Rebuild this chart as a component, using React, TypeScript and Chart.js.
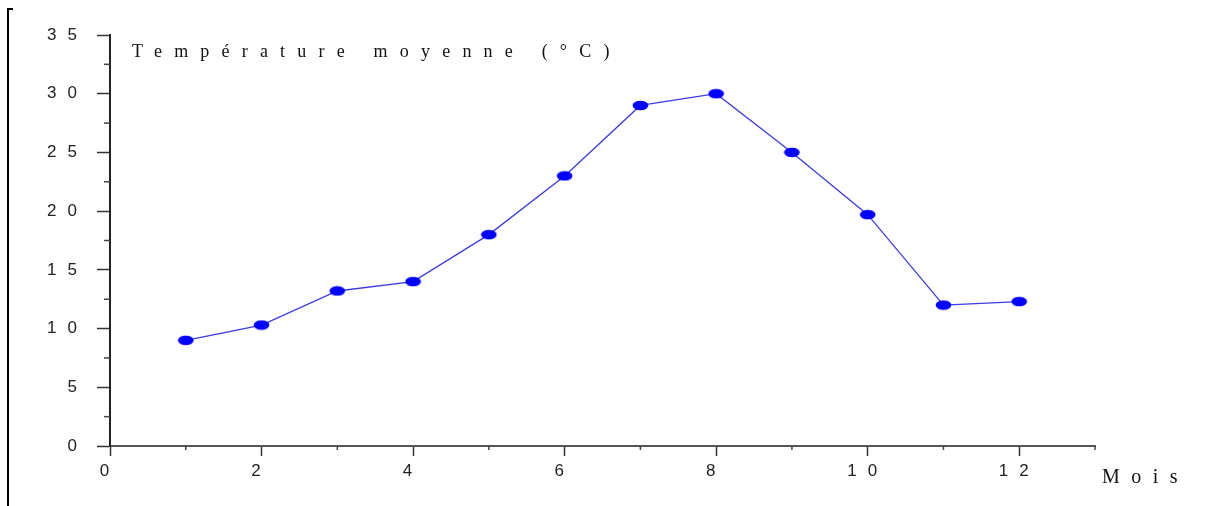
import { useEffect, useRef } from 'react';
import { Chart, registerables } from 'chart.js';

Chart.register(...registerables);

// ---- data ----
const months = [1, 2, 3, 4, 5, 6, 7, 8, 9, 10, 11, 12];
const temperatures = [9.0, 10.3, 13.2, 14.0, 18.0, 23.0, 29.0, 30.0, 25.0, 19.7, 12.0, 12.3];
const xTickLabels = ['0', '2', '4', '6', '8', '10', '12'];
const yTickLabels = ['0', '5', '10', '15', '20', '25', '30', '35'];
const yAxisTitle = 'Température moyenne (°C)';
const xAxisTitle = 'Mois';

const TICK_FONT = 'Liberation Sans';
const SERIF = 'Liberation Serif';

function makeEllipse(): HTMLCanvasElement {
  const c = document.createElement('canvas');
  c.width = 17;
  c.height = 11;
  const g = c.getContext('2d')!;
  g.fillStyle = '#0000ff';
  g.beginPath();
  g.ellipse(8.5, 5.5, 7.8, 4.8, 0, 0, Math.PI * 2);
  g.fill();
  return c;
}

const decorPlugin = {
  id: 'decor',
  beforeDraw(chart: any) {
    (chart.ctx as any).letterSpacing = '11px';
  },
  afterDraw(chart: any) {
    const ctx = chart.ctx as CanvasRenderingContext2D;
    const { chartArea, scales } = chart;
    const xs = scales.x;
    const ys = scales.y;
    ctx.save();
    (ctx as any).letterSpacing = '0px';
    // minor ticks
    ctx.strokeStyle = '#444';
    ctx.lineWidth = 1.5;
    ys.ticks.forEach((t: any) => {
      if (!yTickLabels.includes(String(t.value))) {
        const py = ys.getPixelForValue(t.value);
        ctx.beginPath();
        ctx.moveTo(chartArea.left - 6, py);
        ctx.lineTo(chartArea.left, py);
        ctx.stroke();
      }
    });
    xs.ticks.forEach((t: any) => {
      if (!xTickLabels.includes(String(t.value))) {
        const px = xs.getPixelForValue(t.value);
        ctx.beginPath();
        ctx.moveTo(px, chartArea.bottom);
        ctx.lineTo(px, chartArea.bottom + 4);
        ctx.stroke();
      }
    });
    // left frame bracket
    ctx.strokeStyle = '#000';
    ctx.lineWidth = 2;
    ctx.beginPath();
    ctx.moveTo(13, 9);
    ctx.lineTo(8, 9);
    ctx.lineTo(8, chart.height);
    ctx.stroke();
    // axis titles
    ctx.fillStyle = '#111';
    ctx.textAlign = 'left';
    ctx.textBaseline = 'alphabetic';
    ctx.font = `18px "${SERIF}"`;
    (ctx as any).letterSpacing = '12.2px';
    ctx.fillText(yAxisTitle, chartArea.left + 22, chartArea.top + 22);
    ctx.font = `20px "${SERIF}"`;
    (ctx as any).letterSpacing = '11.5px';
    ctx.fillText(xAxisTitle, chartArea.right + 7, chartArea.bottom + 37);
    ctx.restore();
    (ctx as any).letterSpacing = '0px';
  },
};

export default function App() {
  const ref = useRef<HTMLCanvasElement | null>(null);

  useEffect(() => {
    document.body.style.margin = '0';
    const canvas = ref.current;
    if (!canvas) return;
    const point = makeEllipse();
    const chart = new Chart(canvas, {
      type: 'line',
      data: {
        datasets: [
          {
            label: yAxisTitle,
            data: months.map((m, i) => ({ x: m, y: temperatures[i] })),
            borderColor: '#3b3be6',
            borderWidth: 1.3,
            pointStyle: point as any,
            pointRadius: 6,
            tension: 0,
            fill: false,
          },
        ],
      },
      options: {
        responsive: false,
        animation: false,
        devicePixelRatio: 1,
        layout: { padding: { left: 0, top: 35, right: 125, bottom: 0 } },
        plugins: {
          legend: { display: false },
          tooltip: { enabled: false },
          title: { display: false },
        },
        scales: {
          x: {
            type: 'linear',
            min: 0,
            max: 13,
            afterFit: (s: any) => {
              s.height = 60;
            },
            ticks: {
              stepSize: 1,
              autoSkip: false,
              maxRotation: 0,
              padding: 5,
              color: '#222',
              font: { family: TICK_FONT, size: 17 },
              callback: (v: any) => (xTickLabels.includes(String(v)) ? String(v) : ''),
            },
            grid: {
              display: true,
              drawOnChartArea: false,
              drawTicks: true,
              tickLength: 10,
              tickWidth: 1.5,
              tickColor: (c: any) =>
                c.tick && xTickLabels.includes(String(c.tick.value)) ? '#333' : 'rgba(0,0,0,0)',
            },
            border: { display: true, color: '#555', width: 2 },
          },
          y: {
            type: 'linear',
            min: 0,
            max: 35,
            afterFit: (s: any) => {
              s.width = 110;
            },
            ticks: {
              stepSize: 2.5,
              autoSkip: false,
              padding: 9,
              color: '#222',
              font: { family: TICK_FONT, size: 17 },
              callback: (v: any) => (yTickLabels.includes(String(v)) ? String(v) : ''),
            },
            grid: {
              display: true,
              drawOnChartArea: false,
              drawTicks: true,
              tickLength: 13,
              tickWidth: 1.5,
              tickColor: (c: any) =>
                c.tick && yTickLabels.includes(String(c.tick.value)) ? '#333' : 'rgba(0,0,0,0)',
            },
            border: { display: true, color: '#222', width: 2 },
          },
        },
      },
      plugins: [decorPlugin],
    });
    return () => chart.destroy();
  }, []);

  return (
    <div style={{ width: 1220, height: 506, background: '#fff' }}>
      <canvas ref={ref} width={1220} height={506} style={{ display: 'block' }} />
    </div>
  );
}
